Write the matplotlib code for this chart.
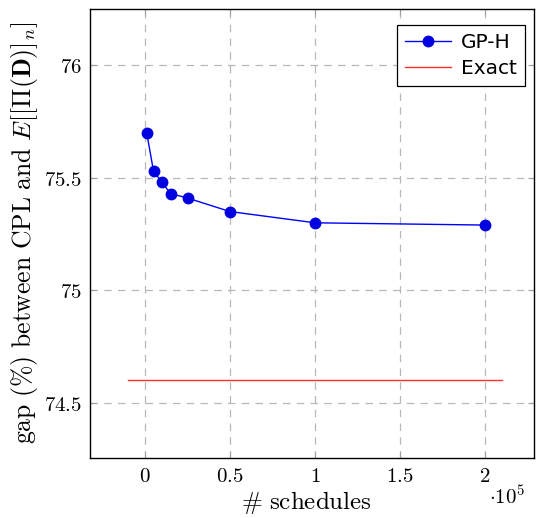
import matplotlib
matplotlib.use("Agg")
import matplotlib.pyplot as plt

plt.rcParams['mathtext.fontset'] = 'cm'

schedules = [1000, 5000, 10000, 15000, 25000, 50000, 100000, 200000]
gp_h = [75.70, 75.53, 75.48, 75.43, 75.41, 75.35, 75.30, 75.29]
exact_x = [-10000, 210000]
exact_y = [74.6, 74.6]
xticks = [0, 50000, 100000, 150000, 200000]
xticklabels = [r'$0$', r'$0.5$', r'$1$', r'$1.5$', r'$2$']
yticks = [74.5, 75, 75.5, 76]
yticklabels = [r'$74.5$', r'$75$', r'$75.5$', r'$76$']

fig = plt.figure(figsize=(5.36, 5.18), dpi=100)
ax = fig.add_axes([90/536, 60/518, 444/536, 449/518])

ax.plot(schedules, gp_h, color='#0000ff', lw=1.0, marker='o', markersize=7.5,
        markerfacecolor='#0000e0', markeredgecolor='#0000e0', label='GP-H', zorder=3)
ax.plot(exact_x, exact_y, color='#ff3030', lw=1.0, label='Exact', zorder=3)

ax.set_xlim(-32353, 228800)
ax.set_ylim(74.255, 76.25)
ax.set_xticks(xticks)
ax.set_xticklabels(xticklabels, fontsize=15)
ax.set_yticks(yticks)
ax.set_yticklabels(yticklabels, fontsize=15)
ax.tick_params(direction='in', length=4, color='#a0a0a0', top=True, right=True, pad=6)
ax.grid(True, color='#b8b8b8', linestyle=(0, (6, 5)), lw=0.9)
for s in ax.spines.values():
    s.set_linewidth(1.0)

ax.set_xlabel(r'$\#\ \mathrm{schedules}$', fontsize=18)
ax.xaxis.set_label_coords((306 - 90) / 444, -(502 - 458) / 449)
ax.xaxis.label.set_va('center')
ax.set_ylabel(r'$\mathrm{gap\ (\%)\ between\ CPL\ and\ }E[[\mathit{\Pi}(\mathbf{D})]_n]$', fontsize=18.5)
ax.yaxis.set_label_coords((25 - 90) / 444, (458 - 233) / 449)
ax.yaxis.label.set_va('center')
fig.text(507/536, 1 - 497/518, r'$\cdot 10^5$', fontsize=15, ha='center', va='center')

leg = ax.legend(loc='upper right', bbox_to_anchor=(525/536, 1 - 25/518),
                bbox_transform=fig.transFigure, frameon=True, fancybox=False,
                edgecolor='black', framealpha=1, handlelength=2.3, borderpad=0.4,
                borderaxespad=0, labelspacing=0.35, handletextpad=0.5,
                prop={'family': 'DejaVu Sans', 'size': 14.5})
leg.get_frame().set_linewidth(0.9)

fig.savefig('out.png', dpi=100)
